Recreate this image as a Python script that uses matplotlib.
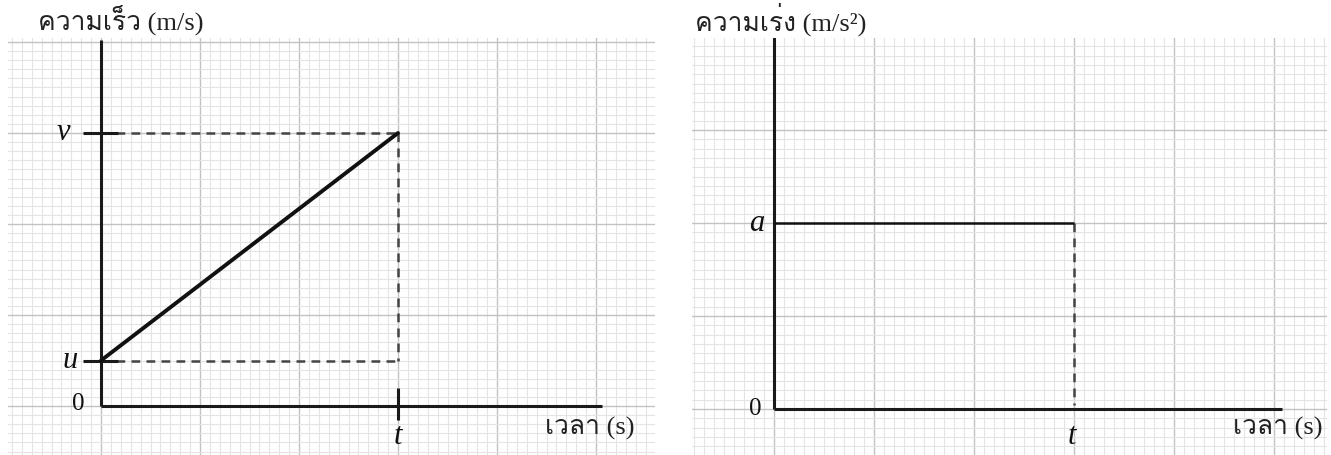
import matplotlib
matplotlib.use("Agg")
import matplotlib.pyplot as plt
from matplotlib.ticker import MultipleLocator

# Kinematics values (in grid units)
vel_time = [0.0, 3.0]          # start and end time t
vel_values = [0.5, 3.0]        # u and v
acc_time = [0.0, 3.0]
acc_values = [2.0, 2.0]        # constant a

vel_label = "ความเร็ว"
acc_label = "ความเร่ง"
time_label = "เวลา"

serif = "Liberation Serif"
text_family = [serif, "Loma", "Sarabun", "FreeSerif", "DejaVu Serif"]

fig = plt.figure(figsize=(13.31, 4.55), dpi=100)
W, H = 1331, 455


def make_axes(px0, px1, py0, py1, ox, oy, ux, uy):
    """Graph-paper axes: origin at pixel (ox, oy), ux/uy pixels per major square."""
    ax = fig.add_axes([px0 / W, 1 - py1 / H, (px1 - px0) / W, (py1 - py0) / H])
    ax.set_xlim((px0 - ox) / ux, (px1 - ox) / ux)
    ax.set_ylim((oy - py1) / uy, (oy - py0) / uy)
    ax.xaxis.set_major_locator(MultipleLocator(1))
    ax.xaxis.set_minor_locator(MultipleLocator(0.1))
    ax.yaxis.set_major_locator(MultipleLocator(1))
    ax.yaxis.set_minor_locator(MultipleLocator(0.1))
    ax.grid(which="major", color="#c2c2c2", lw=1.0)
    ax.grid(which="minor", color="#e4e4e4", lw=0.8)
    ax.tick_params(which="both", length=0, labelbottom=False, labelleft=False)
    for s in ax.spines.values():
        s.set_visible(False)
    ax.set_axisbelow(True)
    return ax


axL = make_axes(8, 655, 38, 455, 101, 406, 99, 91)
axR = make_axes(692, 1327, 38, 455, 774, 409, 100, 93)

dash = dict(color="#444444", lw=1.8, ls=(0, (3.5, 2.5)))
axis_kw = dict(color="#1a1a1a", lw=2.2, solid_capstyle="butt")
it = dict(family=serif, style="italic", fontsize=22, color="#111111")
num = dict(family=serif, fontsize=18, color="#111111")

# Left: velocity-time
t_end = vel_time[1]
u, v = vel_values
axL.plot([0, t_end], [v, v], **dash)
axL.plot([t_end, t_end], [v, u], **dash)
axL.plot([0, t_end], [u, u], **dash)
axL.plot([0, 0], [0, 4.02], **axis_kw)
axL.plot([0, 5.06], [0, 0], **axis_kw)
axL.plot([-0.18, 0.17], [v, v], **axis_kw)
axL.plot([-0.18, 0.17], [u, u], **axis_kw)
axL.plot([t_end, t_end], [-0.15, 0.2], **axis_kw)
axL.plot(vel_time, vel_values, color="#111111", lw=2.8, solid_capstyle="round")
axL.text(-0.38, v, "v", ha="center", va="center", **it)
axL.text(-0.31, u, "u", ha="center", va="center", **it)
axL.text(-0.23, 0.02, "0", ha="center", va="center", **num)
axL.text(t_end, -0.33, "t", ha="center", va="center", **it)

# Right: acceleration-time
a = acc_values[0]
ta = acc_time[1]
axR.plot([ta, ta], [a, 0.04], **dash)
axR.plot([0, 0], [0, 4.0], **axis_kw)
axR.plot([0, 5.08], [0, 0], **axis_kw)
axR.plot(acc_time, acc_values, color="#111111", lw=1.8, solid_capstyle="butt")
axR.text(-0.17, a, "a", ha="center", va="center", **it)
axR.text(-0.19, 0.0, "0", ha="center", va="center", **num)
axR.text(ta - 0.02, -0.3, "t", ha="center", va="center", **it)

tfs = 19
fig.text(38 / W, 1 - 20 / H, vel_label + " (m/s)", family=text_family, fontsize=tfs,
         ha="left", va="center", color="#222222")
fig.text(695 / W, 1 - 19 / H, acc_label + " (m/s²)", family=text_family, fontsize=tfs,
         ha="left", va="center", color="#222222")
fig.text(545 / W, 1 - 428 / H, time_label + " (s)", family=text_family, fontsize=tfs,
         ha="left", va="center", color="#222222")
fig.text(1233 / W, 1 - 428 / H, time_label + " (s)", family=text_family, fontsize=tfs,
         ha="left", va="center", color="#222222")

fig.savefig("out.png", dpi=100)
